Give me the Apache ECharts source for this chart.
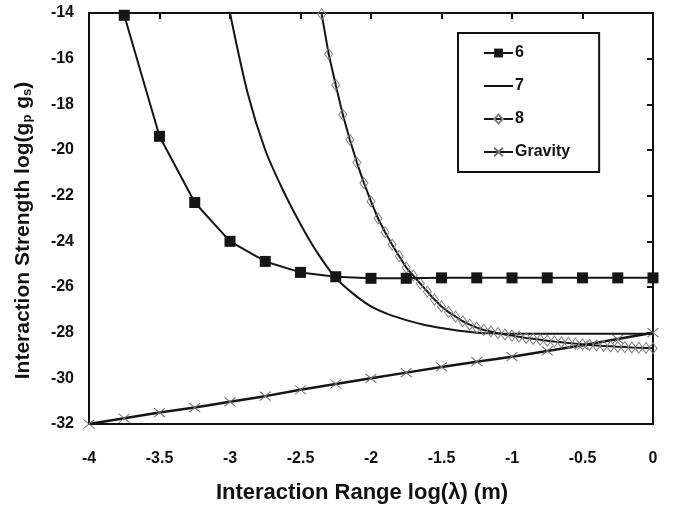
<!DOCTYPE html>
<html>
<head>
<meta charset="utf-8">
<script src="https://cdn.jsdelivr.net/npm/echarts@6/dist/echarts.min.js"></script>
<style>
  html, body { margin: 0; padding: 0; background: #fff; }
  #chart { width: 674px; height: 514px; }
</style>
</head>
<body>
<div id="chart"></div>
<script>
// x ticks / y ticks
const xTicks = [-4, -3.5, -3, -2.5, -2, -1.5, -1, -0.5, 0]
const yTicks = [-32, -30, -28, -26, -24, -22, -20, -18, -16, -14]

// series "6"
const x6 = [-3.75, -3.5, -3.25, -3, -2.75, -2.5, -2.25, -2, -1.75, -1.5, -1.25, -1, -0.75, -0.5, -0.25, 0]
const y6 = [-14.1, -19.4, -22.3, -24.0, -24.88, -25.36, -25.55, -25.62, -25.62, -25.6, -25.6, -25.6, -25.6, -25.6, -25.6, -25.6]

// series "7" (no markers)
const x7 = [-3, -2.875, -2.75, -2.625, -2.5, -2.375, -2.25, -2.125, -2, -1.875, -1.75, -1.625, -1.5, -1.375, -1.25, -1.125, -1, -0.75, -0.5, -0.25, 0]
const y7 = [-14.0, -17.5, -20.0, -21.75, -23.25, -24.55, -25.6, -26.3, -26.85, -27.2, -27.45, -27.65, -27.8, -27.92, -28.0, -28.03, -28.05, -28.05, -28.05, -28.05, -28.05]

// series "8"
const x8 = [-2.35, -2.3, -2.25, -2.2, -2.15, -2.1, -2.05, -2, -1.95, -1.9, -1.85, -1.8, -1.75, -1.7, -1.65, -1.6,
  -1.55, -1.5, -1.45, -1.4, -1.35, -1.3, -1.25, -1.2, -1.15, -1.1, -1.05, -1, -0.95, -0.9, -0.85, -0.8,
  -0.75, -0.7, -0.65, -0.6, -0.55, -0.5, -0.45, -0.4, -0.35, -0.3, -0.25, -0.2, -0.15, -0.1, -0.05, 0]
const y8 = [-14.05, -15.8, -17.15, -18.45, -19.55, -20.55, -21.45, -22.25, -23.0, -23.6, -24.15, -24.65, -25.15, -25.5, -25.85, -26.2,
  -26.55, -26.85, -27.1, -27.3, -27.5, -27.65, -27.78, -27.88, -27.95, -28.02, -28.08, -28.13, -28.18, -28.23, -28.27, -28.31,
  -28.35, -28.39, -28.42, -28.45, -28.48, -28.51, -28.54, -28.56, -28.58, -28.6, -28.62, -28.63, -28.65, -28.66, -28.67, -28.68]

// series "Gravity"
const xG = [-4, -3.75, -3.5, -3.25, -3, -2.75, -2.5, -2.25, -2, -1.75, -1.5, -1.25, -1, -0.75, -0.5, -0.25, 0]
const yG = [-32, -31.75, -31.5, -31.28, -31.03, -30.78, -30.5, -30.25, -30.0, -29.75, -29.5, -29.27, -29.05, -28.8, -28.55, -28.28, -28.0]

const pairs = (xs, ys) => xs.map((x, i) => [x, ys[i]])

const font = 'Liberation Sans, Arial, sans-serif'
const crossPath = 'path://M0,0L10,10M10,0L0,10'

const chart = echarts.init(document.getElementById('chart'))
chart.setOption({
  animation: false,
  backgroundColor: '#fff',
  grid: {
    left: 89,
    right: 21,
    top: 13,
    bottom: 90,
    show: true,
    borderColor: '#111',
    borderWidth: 2
  },
  legend: {
    orient: 'vertical',
    left: 458,
    top: 33,
    backgroundColor: '#fff',
    borderColor: '#111',
    borderWidth: 2,
    borderRadius: 0,
    padding: [12, 29, 12, 25],
    itemGap: 17,
    itemWidth: 29,
    itemHeight: 11,
    textStyle: { fontFamily: font, fontSize: 16, fontWeight: 'bold', color: '#111', padding: [0, 0, 0, -3] },
    data: ['6', '7', '8', 'Gravity']
  },
  xAxis: [
    {
      type: 'value',
      min: xTicks[0],
      max: xTicks[xTicks.length - 1],
      interval: 0.5,
      position: 'bottom',
      axisLine: { show: true, lineStyle: { color: '#111', width: 2 } },
      axisTick: { show: false },
      splitLine: { show: false },
      axisLabel: { margin: 27, fontFamily: font, fontSize: 16, fontWeight: 'bold', color: '#111' },
      name: 'Interaction Range log(λ) (m)',
      nameLocation: 'middle',
      nameGap: 58,
      nameTextStyle: { fontFamily: font, fontSize: 22, fontWeight: 'bold', color: '#111', padding: [0, 18, 0, 0] }
    },
    {
      type: 'value',
      min: xTicks[0],
      max: xTicks[xTicks.length - 1],
      interval: 0.5,
      position: 'top',
      axisLine: { show: true, lineStyle: { color: '#111', width: 2 } },
      axisTick: { show: true, inside: true, length: 6, lineStyle: { color: '#111', width: 2 } },
      axisLabel: { show: false },
      splitLine: { show: false }
    }
  ],
  yAxis: [
    {
      type: 'value',
      min: yTicks[0],
      max: yTicks[yTicks.length - 1],
      interval: 2,
      position: 'left',
      axisLine: { show: true, lineStyle: { color: '#111', width: 2 } },
      axisTick: { show: false },
      splitLine: { show: false },
      axisLabel: { margin: 15, fontFamily: font, fontSize: 16, fontWeight: 'bold', color: '#111' },
      name: 'Interaction Strength log(g{sub|p} g{sub|s})',
      nameLocation: 'middle',
      nameGap: 55,
      nameTextStyle: {
        fontFamily: font, fontSize: 21, fontWeight: 'bold', color: '#111',
        padding: [0, 24, 0, 0],
        rich: {
          sub: { fontFamily: font, fontSize: 13, fontWeight: 'bold', color: '#111', lineHeight: 8, verticalAlign: 'bottom' }
        }
      }
    },
    {
      type: 'value',
      min: yTicks[0],
      max: yTicks[yTicks.length - 1],
      interval: 2,
      position: 'right',
      axisLine: { show: true, lineStyle: { color: '#111', width: 2 } },
      axisTick: { show: true, inside: true, length: 6, lineStyle: { color: '#111', width: 2 } },
      axisLabel: { show: false },
      splitLine: { show: false }
    }
  ],
  series: [
    {
      name: '6',
      type: 'line',
      data: pairs(x6, y6),
      symbol: 'rect',
      symbolSize: 11,
      itemStyle: { color: '#151515' },
      lineStyle: { color: '#151515', width: 2 },
      z: 5
    },
    {
      name: '7',
      type: 'line',
      data: pairs(x7, y7),
      smooth: 0.3,
      symbol: 'none',
      itemStyle: { color: 'rgba(0,0,0,0)', borderWidth: 0 },
      lineStyle: { color: '#151515', width: 2 },
      z: 3
    },
    {
      name: '8',
      type: 'line',
      data: pairs(x8, y8),
      symbol: 'diamond',
      symbolSize: [8, 11],
      itemStyle: { color: 'rgba(255,255,255,0)', borderColor: '#808080', borderWidth: 1 },
      lineStyle: { color: '#151515', width: 2 },
      z: 4
    },
    {
      name: 'Gravity',
      type: 'line',
      data: pairs(xG, yG),
      symbol: crossPath,
      symbolSize: [11, 9],
      itemStyle: { color: 'rgba(255,255,255,0)', borderColor: '#707070', borderWidth: 1 },
      lineStyle: { color: '#151515', width: 2.5 },
      z: 2
    }
  ]
})
</script>
</body>
</html>
